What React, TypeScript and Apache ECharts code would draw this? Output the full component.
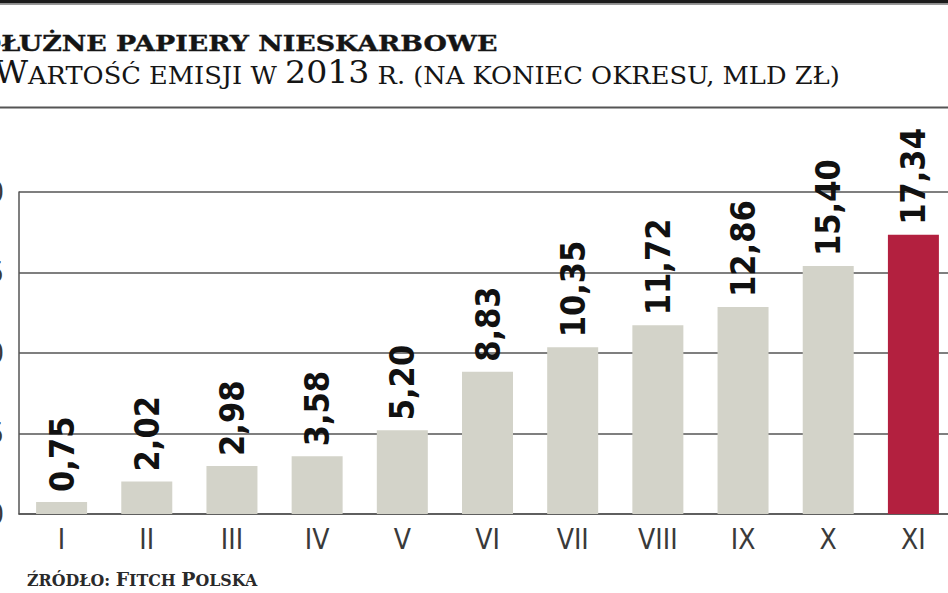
import { useEffect, useRef } from 'react';
import * as echarts from 'echarts';

// months of 2013 (roman numerals) and issue value at end of period, bn zł
const months = ['I', 'II', 'III', 'IV', 'V', 'VI', 'VII', 'VIII', 'IX', 'X', 'XI'];
const values = [0.75, 2.02, 2.98, 3.58, 5.2, 8.83, 10.35, 11.72, 12.86, 15.4, 17.34];
const highlighted = 'XI';

const GREY = '#d3d3c9';
const RED = '#b3203f';
const SHIFT = 60; // chart is shifted left so the y labels are cut like in the print

const fmt = (v: number) => v.toFixed(2).replace('.', ',');

export default function App() {
    const chartRef = useRef<HTMLDivElement>(null);

    useEffect(() => {
        if (!chartRef.current) return;
        const chart = echarts.init(chartRef.current, undefined, { renderer: 'svg' });

        const serif = '"DejaVu Serif", serif';
        const narrow = '"DejaVu Sans Condensed", "Liberation Sans Narrow", sans-serif';

        chart.setOption({
            animation: false,
            backgroundColor: '#fff',
            grid: { left: 79, right: 64, top: 192, bottom: 79 },
            xAxis: {
                type: 'category',
                data: months,
                axisLine: { lineStyle: { color: '#555', width: 1.5 } },
                axisTick: { show: false },
                axisLabel: { margin: 11, fontFamily: narrow, fontSize: 28, color: '#3a3a3a' },
            },
            yAxis: {
                type: 'value',
                min: 0,
                max: 20,
                interval: 5,
                axisLine: { show: true, lineStyle: { color: '#555', width: 1.5 } },
                axisTick: { show: false },
                splitLine: { lineStyle: { color: '#555', width: 1.5 } },
                axisLabel: { margin: 15, fontFamily: narrow, fontSize: 28, color: '#3a3a3a' },
            },
            series: [{
                type: 'bar',
                barWidth: 51,
                data: values.map((v, i) => ({
                    value: v,
                    itemStyle: { color: months[i] === highlighted ? RED : GREY },
                })),
                label: {
                    show: true,
                    position: 'top',
                    rotate: 90,
                    align: 'left',
                    verticalAlign: 'middle',
                    distance: 10,
                    fontFamily: narrow,
                    fontWeight: 'bold',
                    fontSize: 34,
                    color: '#111',
                    formatter: (p: any) => fmt(p.value),
                },
            }],
            graphic: [
                { type: 'rect', shape: { x: 0, y: 0, width: 1080, height: 3.5 }, style: { fill: '#1b1b1b' } },
                { type: 'line', shape: { x1: 0, y1: 4.5, x2: 1080, y2: 4.5 }, style: { stroke: '#999', lineWidth: 1 } },
                { type: 'line', shape: { x1: 0, y1: 107.5, x2: 1080, y2: 107.5 }, style: { stroke: '#555', lineWidth: 2 } },
                {
                    type: 'text',
                    x: SHIFT - 22,
                    y: 43,
                    scaleX: 1.22,
                    style: {
                        text: 'DŁUŻNE PAPIERY NIESKARBOWE',
                        fontFamily: serif,
                        fontWeight: 'bold',
                        fontSize: 22,
                        fill: '#151515',
                        stroke: '#151515',
                        lineWidth: 0.4,
                        textVerticalAlign: 'middle',
                    },
                },
                {
                    type: 'text',
                    x: SHIFT - 6,
                    y: 72,
                    scaleX: 1.07,
                    style: {
                        text: '{b|W}{s|ARTOŚĆ EMISJI W }{b|2013}{s| R. (NA KONIEC OKRESU, MLD ZŁ)}',
                        fill: '#151515',
                        textVerticalAlign: 'middle',
                        rich: {
                            b: { fontFamily: serif, fontSize: 31, fill: '#151515', verticalAlign: 'bottom' },
                            s: { fontFamily: serif, fontSize: 24, fill: '#151515', verticalAlign: 'bottom' },
                        },
                    },
                },
                {
                    type: 'text',
                    x: SHIFT + 27,
                    y: 579,
                    scaleX: 0.99,
                    style: {
                        text: '{s|ŹRÓDŁO: }{b|F}{s|ITCH }{b|P}{s|OLSKA}',
                        fill: '#2a2a2a',
                        textVerticalAlign: 'middle',
                        rich: {
                            b: { fontFamily: serif, fontWeight: 'bold', fontSize: 19, fill: '#2a2a2a', verticalAlign: 'bottom' },
                            s: { fontFamily: serif, fontWeight: 'bold', fontSize: 16, fill: '#2a2a2a', verticalAlign: 'bottom' },
                        },
                    },
                },
            ],
        });

        return () => chart.dispose();
    }, []);

    return (
        <div style={{ position: 'fixed', left: 0, top: 0, width: 948, height: 593, overflow: 'hidden', background: '#fff' }}>
            <div ref={chartRef} style={{ position: 'absolute', left: -SHIFT, top: 0, width: 1080, height: 593 }} />
        </div>
    );
}
